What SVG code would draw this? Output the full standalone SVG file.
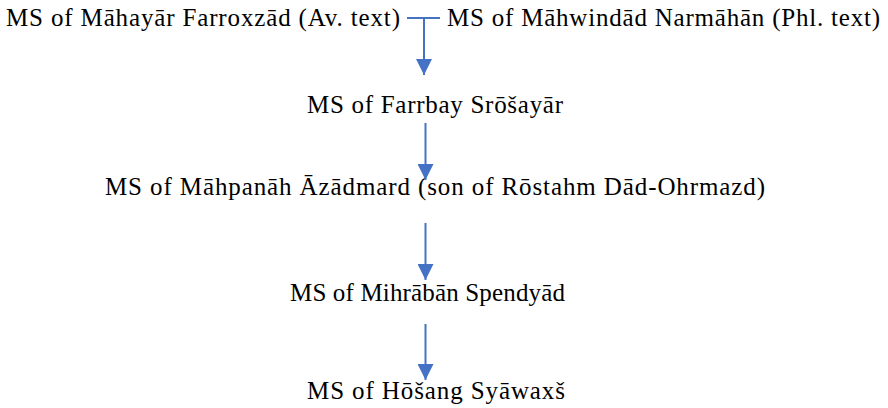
<svg xmlns="http://www.w3.org/2000/svg" width="888" height="408" viewBox="0 0 888 408">
<defs>
<style>
text{font-family:"Liberation Serif","Times New Roman",serif;font-size:25px;fill:#000}
.c{text-anchor:middle}
.ln{stroke:#4472C4;stroke-width:2;fill:none}
</style>
<marker id="ah" markerUnits="userSpaceOnUse" markerWidth="16" markerHeight="16" viewBox="0 0 16 16" refX="16" refY="8" orient="auto">
<path d="M0,0 L16,8 L0,16 Z" fill="#4472C4"/>
</marker>
</defs>
<rect width="888" height="408" fill="#fff"/>
<g id="n1"><text x="6" y="26" textLength="394" lengthAdjust="spacing">MS of Māhayār Farroxzād (Av. text)</text></g>
<g id="n2"><text x="447" y="26" textLength="433" lengthAdjust="spacing">MS of Māhwindād Narmāhān (Phl. text)</text></g>
<g id="n3"><text class="c" x="435" y="113" textLength="256" lengthAdjust="spacing">MS of Farrbay Srōšayār</text></g>
<g id="n4"><text class="c" x="435" y="195" textLength="660" lengthAdjust="spacing">MS of Māhpanāh Āzādmard (son of Rōstahm Dād-Ohrmazd)</text></g>
<g id="n5"><text class="c" x="427.5" y="301" textLength="275" lengthAdjust="spacing">MS of Mihrābān Spendyād</text></g>
<g id="n6"><text class="c" x="436" y="399" textLength="258" lengthAdjust="spacing">MS of Hōšang Syāwaxš</text></g>
<g id="connectors">
<line class="ln" x1="407" y1="18" x2="440" y2="18"/>
<line class="ln" x1="424" y1="18" x2="424" y2="75" marker-end="url(#ah)"/>
<line class="ln" x1="425.5" y1="123" x2="425.5" y2="180" marker-end="url(#ah)"/>
<line class="ln" x1="425.5" y1="223" x2="425.5" y2="280" marker-end="url(#ah)"/>
<line class="ln" x1="425.5" y1="324" x2="425.5" y2="380" marker-end="url(#ah)"/>
</g>
</svg>
